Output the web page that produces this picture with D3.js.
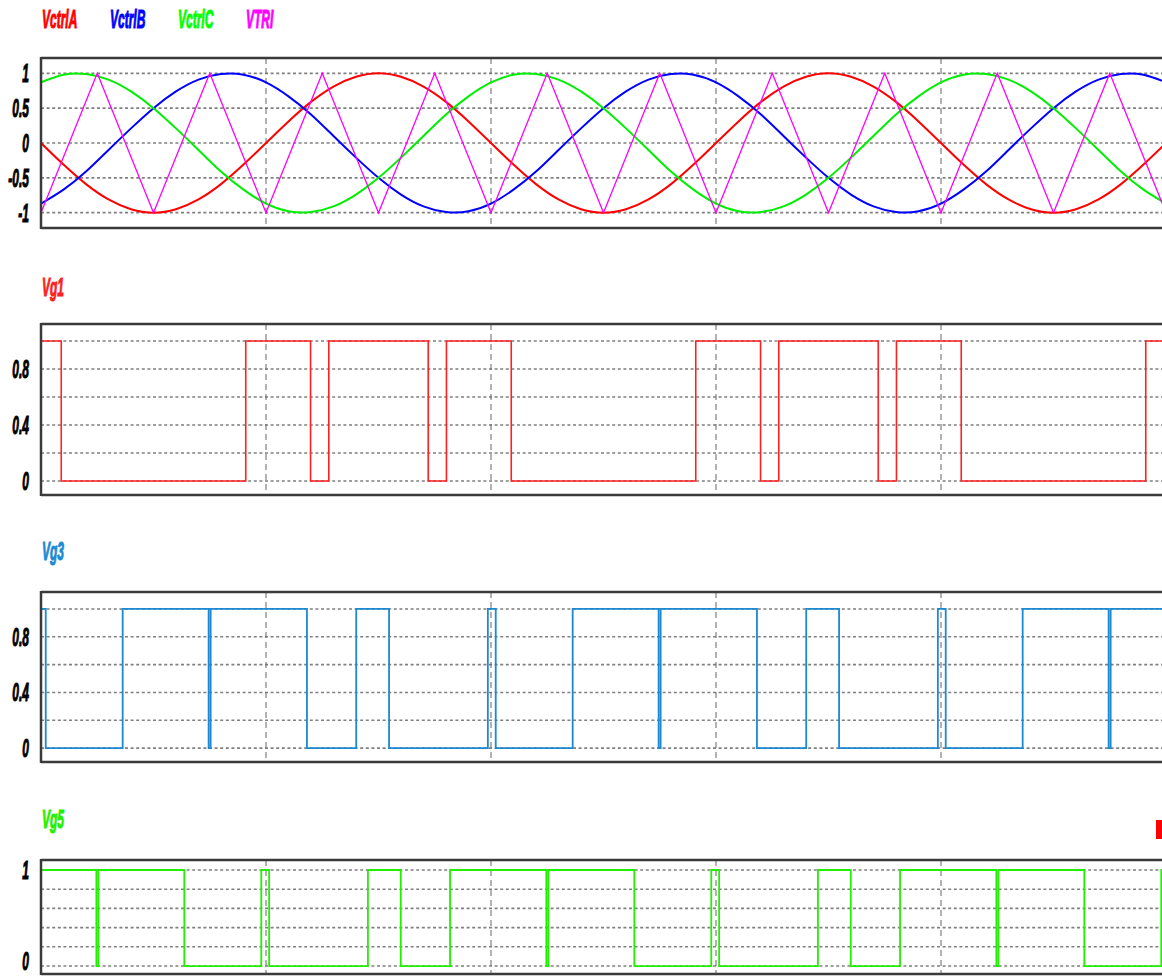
<!DOCTYPE html>
<html>
<head>
<meta charset="utf-8">
<script src="https://cdn.jsdelivr.net/npm/d3@7"></script>
<style>
    body { margin: 0; background: #fff; }
    svg { display: block; }
</style>
</head>
<body>
<script>
// time in ms (one dashed grid division = 10 ms)
const timeMs = [0, 1, 2, 3, 4, 5, 6, 7, 8, 9, 10, 11, 12, 13, 14, 15, 16, 17, 18, 19,
    20, 21, 22, 23, 24, 25, 26, 27, 28, 29, 30, 31, 32, 33, 34, 35, 36, 37, 38, 39,
    40, 41, 42, 43, 44, 45, 46, 47, 48, 49, 50];

const vctrlA = [0, -.31, -.59, -.81, -.95, -1, -.95, -.81, -.59, -.31, 0, .31, .59, .81, .95, 1, .95, .81, .59, .31,
    0, -.31, -.59, -.81, -.95, -1, -.95, -.81, -.59, -.31, 0, .31, .59, .81, .95, 1, .95, .81, .59, .31,
    0, -.31, -.59, -.81, -.95, -1, -.95, -.81, -.59, -.31, 0];

const vctrlB = [-.87, -.67, -.41, -.10, .21, .50, .74, .91, .99, .98, .87, .67, .41, .10, -.21, -.50, -.74, -.91, -.99, -.98,
    -.87, -.67, -.41, -.10, .21, .50, .74, .91, .99, .98, .87, .67, .41, .10, -.21, -.50, -.74, -.91, -.99, -.98,
    -.87, -.67, -.41, -.10, .21, .50, .74, .91, .99, .98, .87];

const vctrlC = [.87, .98, .99, .91, .74, .50, .21, -.10, -.41, -.67, -.87, -.98, -.99, -.91, -.74, -.50, -.21, .10, .41, .67,
    .87, .98, .99, .91, .74, .50, .21, -.10, -.41, -.67, -.87, -.98, -.99, -.91, -.74, -.50, -.21, .10, .41, .67,
    .87, .98, .99, .91, .74, .50, .21, -.10, -.41, -.67, -.87];

// carrier corners
const triTimes = [0, 2.5, 5, 7.5, 10, 12.5, 15, 17.5, 20, 22.5, 25, 27.5, 30, 32.5, 35, 37.5, 40, 42.5, 45, 47.5, 50];
const triValues = [-1, 1, -1, 1, -1, 1, -1, 1, -1, 1, -1, 1, -1, 1, -1, 1, -1, 1, -1, 1, -1];

// gate signals: level at t=0, then the switching instants (ms)
const vg1Start = 1;
const vg1Edges = [0.90, 9.10, 11.98, 12.79, 17.21, 18.02, 20.90, 29.10, 31.98, 32.79, 37.21, 38.02, 40.90, 49.10];
const vg3Start = 1;
const vg3Edges = [0.21, 3.63, 7.45, 7.54, 11.82, 14.01, 15.47, 19.86, 20.21, 23.63, 27.45, 27.54,
    31.82, 34.01, 35.47, 39.86, 40.21, 43.63, 47.45, 47.54];
const vg5Start = 1;
const vg5Edges = [2.46, 2.55, 6.37, 9.79, 10.14, 14.53, 15.99, 18.18, 22.46, 22.55, 26.37, 29.79,
    30.14, 34.53, 35.99, 38.18, 42.46, 42.55, 46.37, 49.79];

const xGridTimes = [10, 20, 30, 40];

const width = 1162;
const height = 976;
const left = 41;

const svg = d3.select("body")
    .append("svg")
    .attr("width", width)
    .attr("height", height)
    .attr("viewBox", [0, 0, width, height]);

const x = d3.scaleLinear().domain([0, 50]).range([left, left + 1125]);

const font = "'Liberation Sans', Arial, sans-serif";

// condensed bold italic text, like the scope's labels
function label(g, text, tx, ty, color, anchor) {
    g.append("text")
        .attr("transform", `translate(${tx},${ty}) scale(0.48,1)`)
        .attr("text-anchor", anchor || "start")
        .attr("font-family", font)
        .attr("font-size", 25)
        .attr("font-weight", "bold")
        .attr("font-style", "italic")
        .attr("fill", color)
        .attr("stroke", color)
        .attr("stroke-width", 1.1)
        .text(text);
}

function stepPoints(start, edges) {
    const pts = [[0, start]];
    let level = start;
    edges.forEach(e => {
        level = 1 - level;
        pts.push([e, level]);
    });
    pts.push([50, level]);
    return pts;
}

// one panel = box, dotted value grid, dashed time grid
function panel(id, top, bottom, domain, gridVals, tickVals, tickFmt) {
    const y = d3.scaleLinear().domain(domain).range([bottom, top]);
    const g = svg.append("g");

    g.append("clipPath").attr("id", id)
        .append("rect")
        .attr("x", left).attr("y", top)
        .attr("width", width - left + 10).attr("height", bottom - top);

    g.append("g")
        .selectAll("line")
        .data(gridVals)
        .join("line")
        .attr("x1", left).attr("x2", width)
        .attr("y1", d => y(d)).attr("y2", d => y(d))
        .attr("stroke", "#808080")
        .attr("stroke-width", 1.6)
        .attr("stroke-dasharray", "3,2.6");

    g.append("g")
        .selectAll("line")
        .data(xGridTimes)
        .join("line")
        .attr("x1", d => x(d)).attr("x2", d => x(d))
        .attr("y1", top).attr("y2", bottom)
        .attr("stroke", "#666")
        .attr("stroke-width", 1)
        .attr("stroke-dasharray", "6,4");

    tickVals.forEach(v => label(g, tickFmt(v), 29, Math.min(y(v) + 9, height - 6), "#000", "end"));

    const plot = g.append("g").attr("clip-path", `url(#${id})`);

    const frame = () => {
        g.append("line").attr("x1", left).attr("x2", width).attr("y1", top).attr("y2", top)
            .attr("stroke", "#3a3a3a").attr("stroke-width", 2.5);
        g.append("line").attr("x1", left).attr("x2", width).attr("y1", bottom).attr("y2", bottom)
            .attr("stroke", "#3a3a3a").attr("stroke-width", 2.5);
        g.append("line").attr("x1", left).attr("x2", left).attr("y1", top - 1).attr("y2", bottom + 1)
            .attr("stroke", "#3a3a3a").attr("stroke-width", 2.5);
    };
    return { y, plot, frame, g };
}

// ---- panel 1: control signals and carrier
const legend = [["VctrlA", "#ff0000"], ["VctrlB", "#0000ff"], ["VctrlC", "#00ff00"], ["VTRI", "#ff00ff"]];
legend.forEach((d, i) => label(svg, d[0], 42 + i * 68, 28, d[1]));

const p1 = panel("clip1", 58, 228, [-1.22, 1.22], [1, 0.5, 0, -0.5, -1], [1, 0.5, 0, -0.5, -1], d => String(d));

const sine = d3.line()
    .x((d, i) => x(timeMs[i]))
    .y(d => p1.y(d))
    .curve(d3.curveNatural);

[[vctrlA, "#ff0000"], [vctrlB, "#0000ff"], [vctrlC, "#00ee00"]].forEach(s => {
    p1.plot.append("path")
        .attr("d", sine(s[0]))
        .attr("fill", "none")
        .attr("stroke", s[1])
        .attr("stroke-width", 2);
});

p1.plot.append("path")
    .attr("d", d3.line().x((d, i) => x(triTimes[i])).y(d => p1.y(d))(triValues))
    .attr("fill", "none")
    .attr("stroke", "#ff00ff")
    .attr("stroke-width", 1.3);
p1.frame();

// ---- gate panels
const gates = [
    { name: "Vg1", color: "#ff2020", title: 296, top: 324, bottom: 495, domain: [-0.1, 1.121],
      grid: [1, 0.8, 0.6, 0.4, 0.2, 0], ticks: [0.8, 0.4, 0], start: vg1Start, edges: vg1Edges, w: 1.6 },
    { name: "Vg3", color: "#1b8ad3", title: 560, top: 592, bottom: 762, domain: [-0.1, 1.122],
      grid: [1, 0.8, 0.6, 0.4, 0.2, 0], ticks: [0.8, 0.4, 0], start: vg3Start, edges: vg3Edges, w: 1.8 },
    { name: "Vg5", color: "#22f000", title: 828, top: 860, bottom: 974, domain: [-0.083, 1.104],
      grid: [1, 0.8, 0.6, 0.4, 0.2, 0], ticks: [1, 0], start: vg5Start, edges: vg5Edges, w: 1.8 }
];

gates.forEach((gd, k) => {
    label(svg, gd.name, 42, gd.title, gd.color);
    const p = panel("clipg" + k, gd.top, gd.bottom, gd.domain, gd.grid, gd.ticks,
        d => d === 0 || d === 1 ? String(d) : d.toFixed(1));
    p.plot.append("path")
        .attr("d", d3.line().x(d => x(d[0])).y(d => p.y(d[1])).curve(d3.curveStepAfter)(stepPoints(gd.start, gd.edges)))
        .attr("fill", "none")
        .attr("stroke", gd.color)
        .attr("stroke-width", gd.w);
    p.frame();
});

// small red marker at the right edge
svg.append("rect")
    .attr("x", 1156).attr("y", 820)
    .attr("width", 8).attr("height", 19)
    .attr("fill", "#ff0000");
</script>
</body>
</html>
